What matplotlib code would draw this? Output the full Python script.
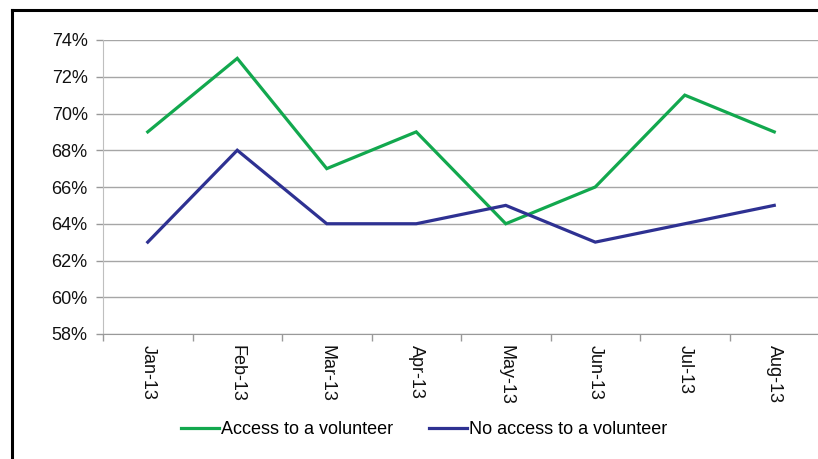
import matplotlib
matplotlib.use("Agg")
import matplotlib.pyplot as plt
from matplotlib.lines import Line2D
from matplotlib.ticker import FuncFormatter, FixedLocator

months = ["Jan-13", "Feb-13", "Mar-13", "Apr-13", "May-13", "Jun-13", "Jul-13", "Aug-13"]
access = [69, 73, 67, 69, 64, 66, 71, 69]
no_access = [63, 68, 64, 64, 65, 63, 64, 65]
yticks = [58, 60, 62, 64, 66, 68, 70, 72, 74]

plt.rcParams['font.family'] = ['Liberation Sans', 'DejaVu Sans']

W, H = 818, 459
fig = plt.figure(figsize=(W / 100, H / 100), dpi=100)
ax = fig.add_axes([103 / W, 1 - 334 / H, (819 - 103) / W, (334 - 40) / H])

x = list(range(len(months)))
ax.plot(x, access, color="#12a84e", lw=2.3, label="Access to a volunteer", solid_joinstyle="miter")
ax.plot(x, no_access, color="#2e3192", lw=2.3, label="No access to a volunteer", solid_joinstyle="miter")

ax.set_xlim(-0.5, len(months) - 0.5)
ax.set_ylim(58, 74)
ax.set_yticks(yticks)
ax.yaxis.set_major_formatter(FuncFormatter(lambda v, p: f"{v:.0f}%"))
ax.grid(axis="y", color="#a6a6a6", lw=1.0)
ax.set_axisbelow(True)

fs = 13
ax.set_xticks(x)
ax.set_xticklabels(months, rotation=-90, fontsize=fs, color="#111111")
ax.tick_params(axis="x", length=0, pad=8)
ax.xaxis.set_minor_locator(FixedLocator([i - 0.5 for i in range(len(months) + 1)]))
ax.tick_params(axis="x", which="minor", length=5, color="#999999", width=1)
ax.tick_params(axis="y", length=5, color="#999999", width=1, labelsize=fs, labelcolor="#111111", pad=6)

for s in ["top", "right"]:
    ax.spines[s].set_visible(False)
ax.spines["left"].set_color("#bfbfbf")
ax.spines["bottom"].set_color("#999999")

leg = fig.legend(loc="center", bbox_to_anchor=(424 / W, 1 - 430 / H), ncol=2, frameon=False,
                 fontsize=fs, handlelength=2.1, handletextpad=0.1, columnspacing=2.0)

fig.add_artist(Line2D([11.5 / W, 11.5 / W], [0, 1 - 10 / H], color="black", lw=2.2, transform=fig.transFigure))
fig.add_artist(Line2D([11.5 / W, 1], [1 - 10 / H, 1 - 10 / H], color="black", lw=2.2, transform=fig.transFigure))

fig.savefig("out.png", dpi=100)
